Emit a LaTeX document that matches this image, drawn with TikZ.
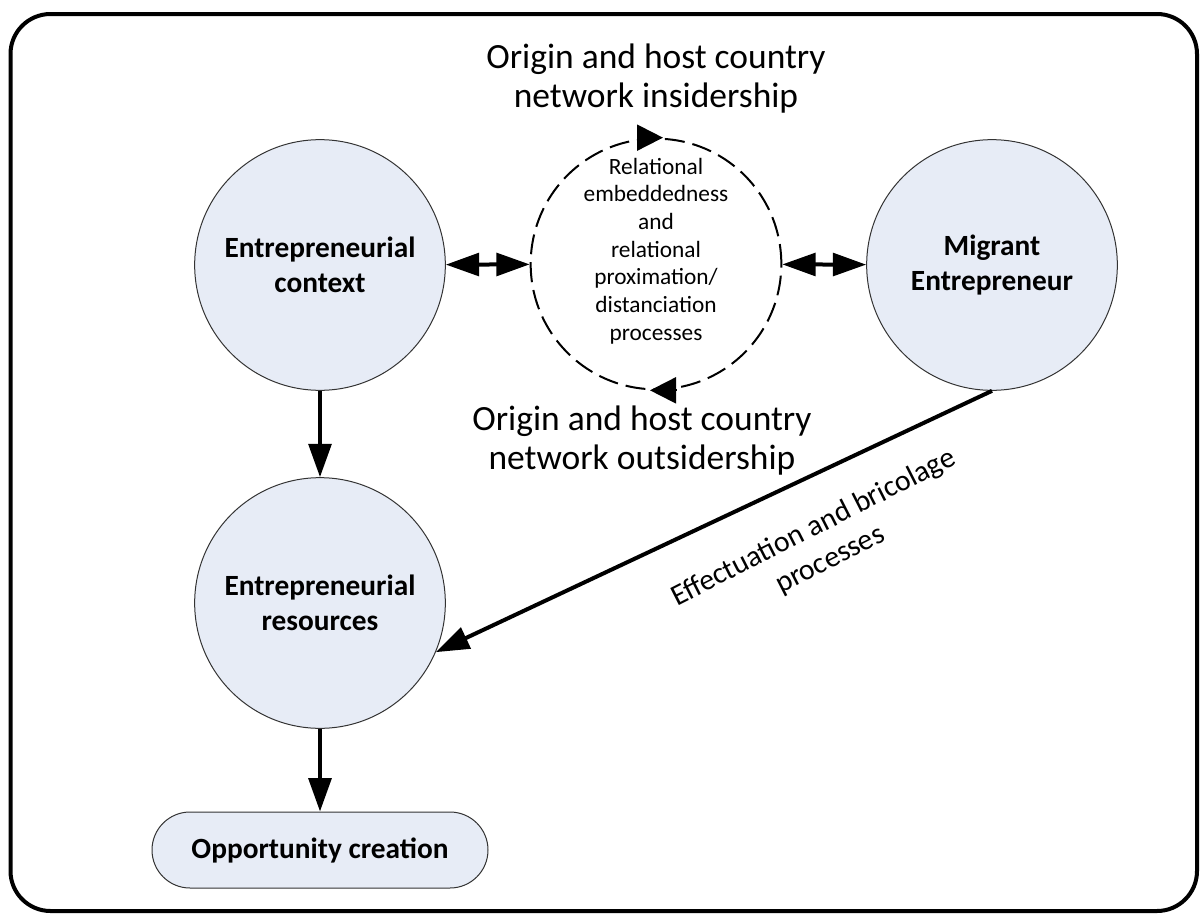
\documentclass[tikz,border=0pt]{standalone}
\usepackage{fontspec}
\setmainfont{Carlito}
\usetikzlibrary{arrows.meta,calc}
\definecolor{bubble}{RGB}{231,236,246}

\begin{document}
\begin{tikzpicture}[x=0.75pt,y=-0.75pt,
    actor/.style={circle,draw=black!80,line width=0.75pt,fill=bubble,
      minimum size=188pt,inner sep=0pt,align=center,
      font=\fontsize{22}{26.25}\selectfont\bfseries},
    outcome/.style={rectangle,draw=black!80,line width=0.75pt,fill=bubble,
      rounded corners=28.5pt,minimum width=252pt,minimum height=57pt,
      font=\fontsize{22}{26.25}\selectfont\bfseries},
    link/.style={line width=3pt,-{Triangle[length=25pt,width=17pt]}},
    twoway/.style={line width=3pt,
      {Triangle[length=25pt,width=17pt]}-{Triangle[length=25pt,width=17pt]}},
    cyctip/.style={line width=1.5pt,-{Triangle[length=19.5pt,width=19.5pt]}},
    biglbl/.style={align=center,font=\fontsize{26.6}{29.3}\selectfont}]
  \path[use as bounding box,clip] (0,0) rectangle (1200,914);
  \draw[line width=3pt,rounded corners=30pt] (10.5,14) rectangle (1197,911);

  % the four boxes of the model
  \node[actor] (ctx) at (320,265) {Entrepreneurial\\context};
  \node[actor] (mig) at (992,265) {Migrant\\Entrepreneur};
  \node[actor] (res) at (320,603) {Entrepreneurial\\resources};
  \node[outcome] (opp) at (320,850) {Opportunity creation};

  % dashed cycle in the middle
  \node[circle,draw,line width=1.5pt,dash pattern=on 15pt off 6pt,
    minimum size=188pt,inner sep=0pt] (rel) at (656,264) {};
  \node[align=center,font=\fontsize{17.5}{20.8}\selectfont] (reltxt) at (656,251)
    {Relational\\embeddedness\\and\\relational\\proximation/\\distanciation\\processes};
  \draw[cyctip] ($(rel.north)+(-19,0)$) -- ($(rel.north)+(7,0)$);
  \draw[cyctip] ($(rel.south)+(20,0)$) -- ($(rel.south)+(-6,0)$);

  \node[biglbl] (inlbl) at (656,79) {Origin and host country\\network insidership};
  \node[biglbl] (outlbl) at (642,441) {Origin and host country\\network outsidership};

  \draw[twoway] (ctx) -- (rel);
  \draw[twoway] (rel) -- (mig);
  \draw[link] (ctx) -- (res);
  \draw[link] (res) -- (opp);
  \draw[link] (mig.south) -- (res.-23);
  \node[rotate=27,align=center,font=\fontsize{22.3}{27}\selectfont] (efflbl)
    at (822,544) {Effectuation and bricolage\\processes};
\end{tikzpicture}
\end{document}
